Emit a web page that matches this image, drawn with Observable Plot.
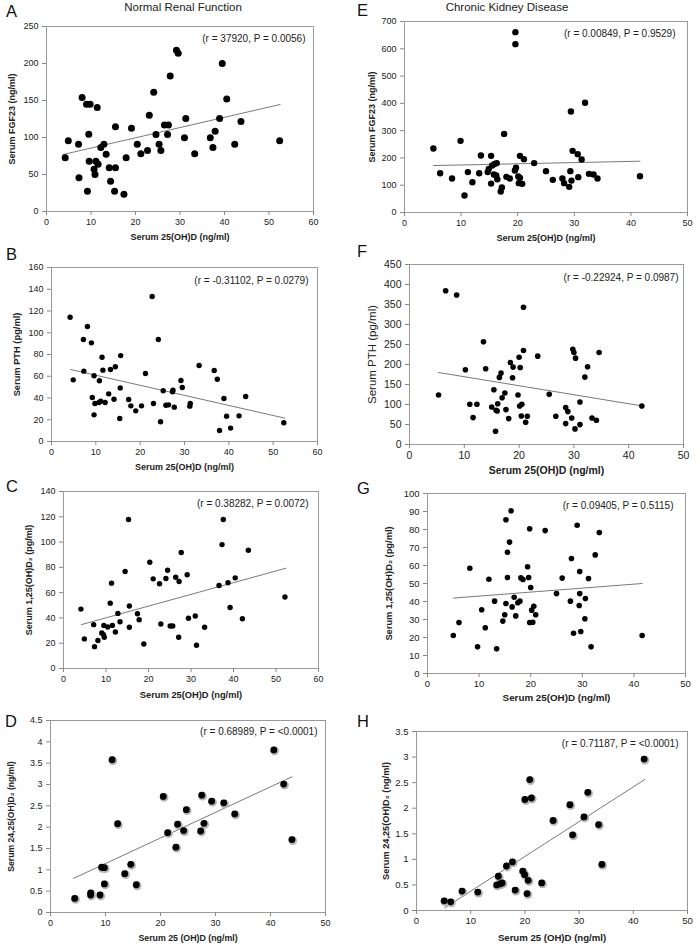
<!DOCTYPE html>
<html><head><meta charset="utf-8">
<script src="https://cdn.jsdelivr.net/npm/d3@7"></script>
<script src="https://cdn.jsdelivr.net/npm/@observablehq/plot@0.6"></script>
<style>
body{margin:0;background:#fff;font-family:"Liberation Sans",Arial,sans-serif;}
#root{position:relative;width:700px;height:946px;overflow:hidden;background:#fff;}
.abs{position:absolute;line-height:1;white-space:nowrap;color:#111;}
.pw{position:absolute;}
.pw svg{max-width:none;overflow:visible;background:transparent;}
</style></head><body><div id="root"></div>
<script>
// ---- Column titles and panel letters ----
const colTitles = ["Normal Renal Function", "Chronic Kidney Disease"];
const panelLetters = ["A","E","B","F","C","G","D","H"];

// ---- Panel A: FGF23 vs 25(OH)D, normal renal function ----
const aX = [4.2,4.9,7.2,7.3,8.0,9.0,9.8,9.2,9.5,9.6,11.4,11.1,10.7,10.9,11.6,12.2,12.9,13.4,14.1,14.4,15.5,15.5,15.3,17.4,17.9,19.1,20.4,21.2,22.7,23.1,24.1,24.6,25.3,25.7,26.5,27.4,27.2,27.8,29.2,29.6,31.3,31.0,33.3,36.8,37.4,37.9,38.9,39.5,40.5,42.3,43.7,52.4];
const aY = [72.5,95.5,91,45.5,154,145,145,27.5,104.5,68,140.5,68,57,50,64,86.5,91,77.5,59,41,114.4,59,27.5,23.4,72.5,112.6,91,78,82.4,130,161,104,91,82.4,117,117,104,183,218,214,125.7,99.5,78,99.5,86.5,108.6,125.7,200,152,91,121.6,95.5];
const aTrendX = [3.7, 52.5], aTrendY = [77, 144.6];
const aNote = "(r = 37920, P = 0.0056)";

// ---- Panel E: FGF23 vs 25(OH)D, CKD ----
const eX = [5.1,6.3,8.4,9.9,10.6,11.2,12.0,13.2,13.5,14.7,14.9,15.3,15.3,15.5,15.8,15.9,16.2,16.3,16.4,17.2,17.0,17.6,18.0,18.6,19.5,19.7,19.6,19.6,20.1,20.2,20.4,20.4,20.8,21.1,22.9,25.0,26.2,27.9,28.2,29.1,29.3,29.5,29.4,29.7,30.6,30.7,31.3,31.9,32.6,33.4,34.1,41.6];
const eY = [234.5,144,124.6,262.6,62.3,148,111,144,209,148,160,207.7,106,172,139,178,135.6,181,122,91.6,77,288,130.7,124.6,154,164,661,617,132,107.5,207.7,127,105,195.5,181,151.5,119.7,124.6,107.5,94,151.5,117,370,226,213.8,129.5,194,402,141.7,139,124.6,133];
const eTrendX = [5.1, 41.6], eTrendY = [172, 188];
const eNote = "(r = 0.00849, P = 0.9529)";

// ---- Panel B: PTH, normal ----
const bX = [4.2,4.9,7.2,7.3,8.1,9.0,9.2,9.6,9.6,9.8,10.8,10.7,11.1,11.4,11.6,12.1,12.9,13.3,14.1,14.4,15.4,15.5,15.6,17.4,17.9,19.0,20.3,21.2,22.7,23.0,24.1,24.6,25.2,25.8,26.4,27.3,27.4,27.7,29.2,29.5,31.2,31.3,33.3,36.7,37.4,37.9,38.9,39.5,40.4,42.3,43.8,52.4];
const bY = [114.3,56.7,93.8,64.7,105.7,90.7,40.5,60.4,24.5,35,55.8,35.9,37,77.5,65.6,35.9,43.8,66.2,38.9,68.7,21.1,49.3,79,38.6,32.8,28.2,32.8,62.5,133.3,35,93.8,18.1,46.6,33.4,33.7,45.7,47.2,31.6,56.1,49.7,32.5,35,69.9,65.3,57.3,10.1,39.5,23.3,12.3,23.6,41.4,17.2];
const bTrendX = [4.3, 52.6], bTrendY = [66.2, 21.5];
const bNote = "(r = -0.31102, P = 0.0279)";

// ---- Panel F: PTH, CKD ----
const fX = [5.3,6.6,8.6,10.2,11.0,11.6,12.3,13.5,13.9,15.0,15.4,15.7,15.8,16.1,16.0,16.4,16.7,16.9,17.4,17.6,18.1,18.4,18.8,18.9,19.8,20.0,20.2,20.1,20.4,20.5,20.8,20.8,21.2,21.5,23.4,25.5,26.7,28.5,28.5,28.9,29.6,29.8,30.0,30.3,30.2,31.1,31.1,32.0,32.5,33.3,34.1,34.6,42.4];
const fY = [123.7,384.4,373.6,186.8,100.5,67.3,100.5,256.6,189.3,93.8,137,33.2,85.5,102,83.9,167.7,178.5,117,128.7,87.2,64.8,205,166.9,193.5,123.7,218.3,192.6,96.3,71.4,100.5,343,235,55.6,70.6,220.9,125.4,70.6,92.2,52.3,82.2,66.4,238.3,230,215.9,39,49.8,106.3,168.5,194.3,66.4,60.6,230,96.3];
const fTrendX = [5.3, 42.5], fTrendY = [180, 96.3];
const fNote = "(r = -0.22924, P = 0.0987)";

// ---- Panel C: 1,25(OH)2D, normal ----
const cX = [4.1,4.9,7.1,7.3,8.1,9.0,9.5,9.4,9.6,10.4,11.0,11.3,11.5,12.2,12.8,13.3,14.5,15.3,15.5,15.5,17.4,17.8,18.9,20.3,21.1,22.6,22.9,24.1,24.5,25.1,25.7,26.4,27.2,27.1,27.7,29.1,29.4,31.0,31.3,33.2,36.6,37.3,37.6,38.7,39.2,40.4,42.1,43.5,52.1];
const cY = [47,23.4,34.7,17.3,22.1,28.1,34.1,26.8,24.7,32.8,51.7,67.5,34.1,28.9,43.6,37,76.7,117.9,49.4,32.6,43.3,38.6,19.4,84,70.9,67,35.2,71.2,77.7,33.6,33.6,72.2,68.8,24.7,91.7,74.1,39.7,41.5,18.4,32.6,65.7,98,117.9,67.8,48.3,71.7,39.4,93.5,56.5];
const cTrendX = [4.2, 52.3], cTrendY = [34.7, 79.3];
const cNote = "(r = 0.38282, P = 0.0072)";

// ---- Panel G: 1,25(OH)2D, CKD ----
const gX = [5.0,6.1,8.2,9.7,10.5,11.2,11.9,13.0,13.4,14.6,14.97,15.2,15.2,15.5,15.5,15.9,16.2,16.4,16.8,17.1,17.5,17.9,18.1,18.5,19.4,19.6,19.8,20.0,19.8,20.4,20.2,20.6,20.97,22.8,25.0,26.1,27.7,27.9,28.3,29.0,29.4,29.5,29.5,29.7,30.5,30.6,31.2,31.7,32.5,33.3,41.6];
const gY = [21.1,28.3,58.5,14.8,35.4,25.4,52.4,40.2,13.7,29.1,32.6,38.9,85.4,67.4,53.3,73,90.4,37,42.4,32,39.3,40.2,53.1,52.2,59.3,53.3,80.4,47.8,28.3,28.5,35.2,37.4,32.6,79.4,44.4,53,40.2,63.9,22.4,82.4,37.8,56.7,44.4,23.3,30.4,41.7,52.8,14.8,65.9,78.3,21.1];
const gTrendX = [5.0, 41.6], gTrendY = [41.9, 50];
const gNote = "(r = 0.09405, P = 0.5115)";

// ---- Panel D: 24,25(OH)2D, normal ----
const dX = [4.4,7.3,7.3,9.0,9.3,9.8,9.8,11.2,12.2,13.5,14.6,15.6,20.5,21.3,22.8,23.1,24.2,24.7,27.3,27.5,27.9,29.3,31.5,33.5,40.6,42.4,43.9];
const dY = [0.33,0.46,0.41,0.41,1.06,1.05,0.67,3.58,2.08,0.91,1.13,0.65,2.72,1.87,1.53,2.07,1.92,2.41,1.91,2.75,2.09,2.61,2.57,2.31,3.81,3.01,1.71];
const dTrendX = [4.2, 43.9], dTrendY = [0.8, 3.18];
const dNote = "(r = 0.68989, P = <0.0001)";

// ---- Panel H: 24,25(OH)2D, CKD ----
const hX = [5.1,6.3,8.4,11.3,14.8,15.1,15.4,15.8,16.6,17.7,18.2,19.6,19.95,20.0,20.4,20.6,20.9,21.2,23.1,25.2,28.3,28.8,30.9,31.6,33.6,34.2,42.0];
const hY = [0.19,0.17,0.38,0.36,0.50,0.67,0.52,0.54,0.87,0.95,0.40,0.77,0.70,2.17,0.33,0.59,2.56,2.20,0.54,1.76,2.07,1.48,1.83,2.31,1.68,0.90,2.96];
const hTrendX = [5.2, 42.1], hTrendY = [0.05, 2.56];
const hNote = "(r = 0.71187, P = <0.0001)";

// ---- Axis ticks and titles ----
const ticks0to60 = [0,10,20,30,40,50,60];
const ticks0to50 = [0,10,20,30,40,50];
const aYTicks = [0,50,100,150,200,250];
const eYTicks = [0,100,200,300,400,500,600,700];
const bYTicks = [0,20,40,60,80,100,120,140,160];
const fYTicks = [0,50,100,150,200,250,300,350,400,450];
const cYTicks = [0,20,40,60,80,100,120,140];
const gYTicks = [0,10,20,30,40,50,60,70,80,90,100];
const dYTicks = [0,0.5,1,1.5,2,2.5,3,3.5,4,4.5];
const hYTicks = [0,0.5,1,1.5,2,2.5,3,3.5];
const xTitle25 = "Serum 25(OH)D (ng/ml)";
const xTitle25s = "Serum 25 (OH)D (ng/ml)";
const yTitleFGF = "Serum FGF23 (ng/ml)";
const yTitlePTH = "Serum PTH (pg/ml)";
const yTitle125 = "Serum 1,25(OH)D\u2082 (pg/ml)";
const yTitle2425 = "Serum 24,25(OH)D\u2082 (ng/ml)";

const FONT = "'Liberation Sans', Arial, sans-serif";
const root = document.getElementById("root");

function addText(txt, left, top, size, extra) {
  const el = document.createElement("div");
  el.className = "abs";
  el.textContent = txt;
  el.style.left = left + "px";
  el.style.top = top + "px";
  el.style.fontSize = size + "px";
  if (extra) Object.assign(el.style, extra);
  root.appendChild(el);
}

function panel(o) {
  const mt = 30, mb = 40;
  const width = 350, height = (o.B - o.T) + mt + mb;
  const idx = d3.range(o.xs.length);
  const trend = o.tx.map((x, i) => ({x, y: o.ty[i]}));
  const marks = [
    Plot.frame({stroke: "#9a9a9a"}),
    Plot.axisX({ticks: o.xTicks, tickSize: 4, tickPadding: 3, fontSize: o.tickFont, stroke: "#888", fill: "#222", label: null, tickFormat: d => String(d)}),
    Plot.axisY({ticks: o.yTicks, tickSize: 4, tickPadding: 4, fontSize: o.tickFont, stroke: "#888", fill: "#222", label: null, tickFormat: d => String(d)}),
    Plot.line(trend, {x: "x", y: "y", stroke: "#7a7a7a", strokeWidth: 1}),
  ];
  if (o.shadow) marks.push(Plot.dot(idx, {x: i => o.xs[i], y: i => o.ys[i], r: o.r + 1, fill: "#b5b5b5", dx: 0.8, dy: 1}));
  marks.push(
    Plot.dot(idx, {x: i => o.xs[i], y: i => o.ys[i], r: o.r, fill: "#000"}),
    Plot.text([o.note], {frameAnchor: "top-right", dx: o.ndx, dy: o.ndy, textAnchor: "end", lineAnchor: "middle", fontSize: 10, fill: "#222"}),
    Plot.text([o.xTitle], {frameAnchor: "bottom", dy: o.xOff, textAnchor: "middle", lineAnchor: "bottom", fontWeight: "bold", fontSize: o.xFont, fill: "#222"}),
    Plot.text([o.yTitle], {frameAnchor: "left", dx: -o.yOff, rotate: -90, textAnchor: "middle", lineAnchor: "top", fontWeight: o.yWeight || "bold", fontSize: o.yFont, fill: "#222"})
  );
  const svg = Plot.plot({
    width, height,
    marginLeft: o.L - o.col, marginRight: o.col + width - o.R, marginTop: mt, marginBottom: mb,
    x: {domain: o.xDomain},
    y: {domain: o.yDomain},
    style: {fontFamily: FONT, background: "transparent", overflow: "visible"},
    marks
  });
  const wrap = document.createElement("div");
  wrap.className = "pw";
  wrap.style.left = o.col + "px";
  wrap.style.top = (o.T - mt) + "px";
  wrap.appendChild(svg);
  root.appendChild(wrap);
}

// Panels
panel({col: 0, L: 46, R: 313, T: 26, B: 211, xDomain: [0,60], yDomain: [0,250], xTicks: ticks0to60, yTicks: aYTicks,
  xs: aX, ys: aY, tx: aTrendX, ty: aTrendY, note: aNote, ndx: -8, ndy: 12, r: 3.5, tickFont: 9,
  xTitle: xTitle25, xOff: 28.5, xFont: 9, yTitle: yTitleFGF, yOff: 38, yFont: 9});
panel({col: 350, L: 404, R: 687, T: 21, B: 212, xDomain: [0,50], yDomain: [0,700], xTicks: ticks0to50, yTicks: eYTicks,
  xs: eX, ys: eY, tx: eTrendX, ty: eTrendY, note: eNote, ndx: -12, ndy: 12, r: 3.2, tickFont: 9,
  xTitle: xTitle25, xOff: 28, xFont: 9, yTitle: yTitleFGF, yOff: 36, yFont: 9});
panel({col: 0, L: 51, R: 317, T: 267, B: 441, xDomain: [0,60], yDomain: [0,160], xTicks: ticks0to60, yTicks: bYTicks,
  xs: bX, ys: bY, tx: bTrendX, ty: bTrendY, note: bNote, ndx: -9, ndy: 13, r: 2.7, tickFont: 9,
  xTitle: xTitle25, xOff: 28.5, xFont: 9, yTitle: yTitlePTH, yOff: 38, yFont: 9.3});
panel({col: 350, L: 409, R: 683, T: 264, B: 444, xDomain: [0,50], yDomain: [0,450], xTicks: ticks0to50, yTicks: fYTicks,
  xs: fX, ys: fY, tx: fTrendX, ty: fTrendY, note: fNote, ndx: -5, ndy: 13, r: 2.8, tickFont: 10.5,
  xTitle: xTitle25, xOff: 29, xFont: 10.5, yTitle: yTitlePTH, yOff: 42, yFont: 11.5, yWeight: "normal"});
panel({col: 0, L: 63, R: 318, T: 491, B: 668, xDomain: [0,60], yDomain: [0,140], xTicks: ticks0to60, yTicks: cYTicks,
  xs: cX, ys: cY, tx: cTrendX, ty: cTrendY, note: cNote, ndx: -10, ndy: 12, r: 2.7, tickFont: 9,
  xTitle: xTitle25, xOff: 29, xFont: 9.3, yTitle: yTitle125, yOff: 38, yFont: 9});
panel({col: 350, L: 427, R: 685, T: 493, B: 673, xDomain: [0,50], yDomain: [0,100], xTicks: ticks0to50, yTicks: gYTicks,
  xs: gX, ys: gY, tx: gTrendX, ty: gTrendY, note: gNote, ndx: -12, ndy: 12, r: 2.8, tickFont: 9.5,
  xTitle: xTitle25, xOff: 27, xFont: 9.8, yTitle: yTitle125, yOff: 42, yFont: 9.3});
panel({col: 0, L: 50, R: 325, T: 720, B: 912, xDomain: [0,50], yDomain: [0,4.5], xTicks: ticks0to50, yTicks: dYTicks,
  xs: dX, ys: dY, tx: dTrendX, ty: dTrendY, note: dNote, ndx: -8, ndy: 11, r: 3.4, tickFont: 9, shadow: true,
  xTitle: xTitle25s, xOff: 28, xFont: 8.8, yTitle: yTitle2425, yOff: 43, yFont: 8.6});
panel({col: 350, L: 416, R: 687, T: 731, B: 910, xDomain: [0,50], yDomain: [0,3.5], xTicks: ticks0to50, yTicks: hYTicks,
  xs: hX, ys: hY, tx: hTrendX, ty: hTrendY, note: hNote, ndx: -9, ndy: 12, r: 3.4, tickFont: 9.5, shadow: true,
  xTitle: xTitle25s, xOff: 30, xFont: 9.6, yTitle: yTitle2425, yOff: 34, yFont: 9.2});

// Column titles
addText(colTitles[0], 83, 2.3, 11.5, {width: "200px", textAlign: "center", color: "#222"});
addText(colTitles[1], 407, 2.3, 11.5, {width: "200px", textAlign: "center", color: "#222"});
// Panel letters
const letterPos = [[6,3],[357,2],[6,246],[357,243],[6,478],[357,480],[5,713],[357,713]];
panelLetters.forEach((l, i) => addText(l, letterPos[i][0], letterPos[i][1], 16.5, {color: "#111"}));
</script>
</body></html>
